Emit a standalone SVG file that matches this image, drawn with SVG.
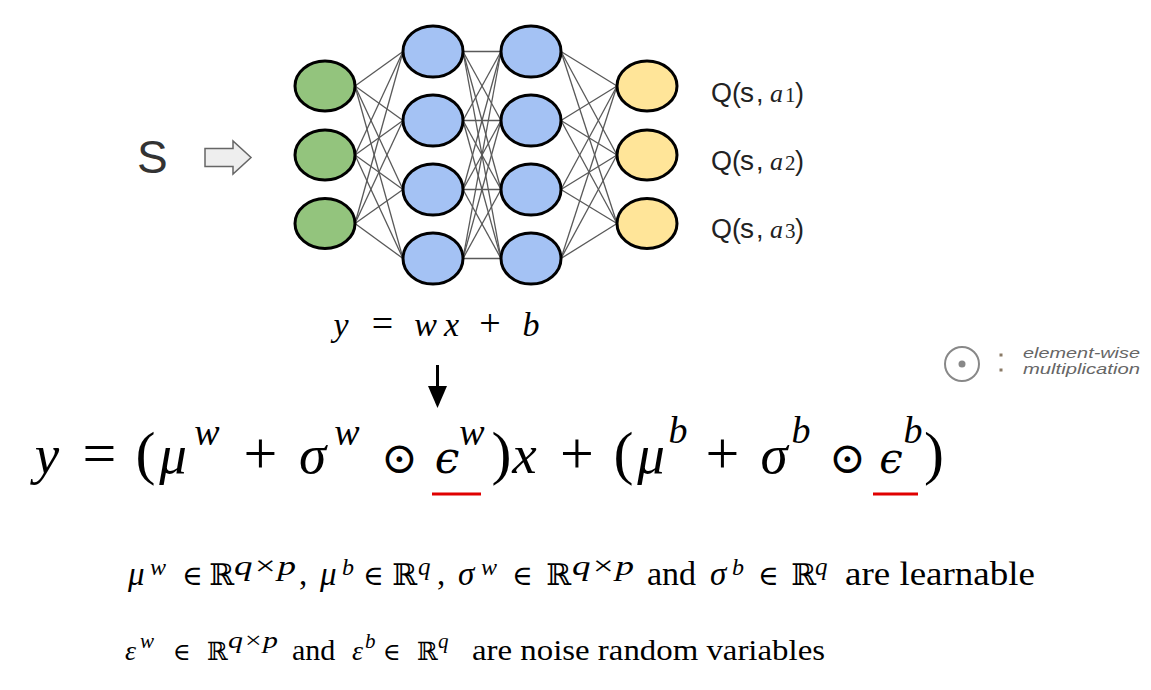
<svg xmlns="http://www.w3.org/2000/svg" width="1151" height="690" viewBox="0 0 1151 690">
<style>
.node{stroke:#000;stroke-width:3}
.in{fill:#93c47d}.hid{fill:#a4c2f4}.out{fill:#ffe599}
.conn line{stroke:#595959;stroke-width:1.3}
.mi{font-family:"Liberation Serif","DejaVu Serif",serif;font-style:italic;fill:#000}
.mr{font-family:"Liberation Serif","DejaVu Serif",serif;fill:#000}
.sym{font-family:"DejaVu Serif","DejaVu Sans",serif;fill:#000}
.qs{font-family:"Liberation Sans",Arial,sans-serif;fill:#222}
.qa{font-family:"Liberation Serif",serif;font-style:italic;fill:#222}
.qd{font-family:"Liberation Serif",serif;fill:#222}
.leg{font-family:"Liberation Sans",Arial,sans-serif;font-style:italic;fill:#666;font-size:14px}
</style>

<g class="conn" id="connectors">
<line x1="355" y1="86" x2="403" y2="51.5"/><line x1="355" y1="86" x2="403" y2="120.5"/><line x1="355" y1="86" x2="403" y2="189.5"/><line x1="355" y1="86" x2="403" y2="258.5"/>
<line x1="355" y1="155" x2="403" y2="51.5"/><line x1="355" y1="155" x2="403" y2="120.5"/><line x1="355" y1="155" x2="403" y2="189.5"/><line x1="355" y1="155" x2="403" y2="258.5"/>
<line x1="355" y1="223.5" x2="403" y2="51.5"/><line x1="355" y1="223.5" x2="403" y2="120.5"/><line x1="355" y1="223.5" x2="403" y2="189.5"/><line x1="355" y1="223.5" x2="403" y2="258.5"/>
<line x1="463" y1="51.5" x2="501" y2="51.5"/><line x1="463" y1="51.5" x2="501" y2="120.5"/><line x1="463" y1="51.5" x2="501" y2="189.5"/><line x1="463" y1="51.5" x2="501" y2="258.5"/>
<line x1="463" y1="120.5" x2="501" y2="51.5"/><line x1="463" y1="120.5" x2="501" y2="120.5"/><line x1="463" y1="120.5" x2="501" y2="189.5"/><line x1="463" y1="120.5" x2="501" y2="258.5"/>
<line x1="463" y1="189.5" x2="501" y2="51.5"/><line x1="463" y1="189.5" x2="501" y2="120.5"/><line x1="463" y1="189.5" x2="501" y2="189.5"/><line x1="463" y1="189.5" x2="501" y2="258.5"/>
<line x1="463" y1="258.5" x2="501" y2="51.5"/><line x1="463" y1="258.5" x2="501" y2="120.5"/><line x1="463" y1="258.5" x2="501" y2="189.5"/><line x1="463" y1="258.5" x2="501" y2="258.5"/>
<line x1="561" y1="51.5" x2="617" y2="86"/><line x1="561" y1="51.5" x2="617" y2="155"/><line x1="561" y1="51.5" x2="617" y2="223.5"/>
<line x1="561" y1="120.5" x2="617" y2="86"/><line x1="561" y1="120.5" x2="617" y2="155"/><line x1="561" y1="120.5" x2="617" y2="223.5"/>
<line x1="561" y1="189.5" x2="617" y2="86"/><line x1="561" y1="189.5" x2="617" y2="155"/><line x1="561" y1="189.5" x2="617" y2="223.5"/>
<line x1="561" y1="258.5" x2="617" y2="86"/><line x1="561" y1="258.5" x2="617" y2="155"/><line x1="561" y1="258.5" x2="617" y2="223.5"/>
</g>

<g id="input1"><ellipse class="node in" cx="325" cy="86" rx="30" ry="25"/></g>
<g id="input2"><ellipse class="node in" cx="325" cy="155" rx="30" ry="25"/></g>
<g id="input3"><ellipse class="node in" cx="325" cy="223.5" rx="30" ry="25"/></g>
<g id="h1a"><ellipse class="node hid" cx="433" cy="51.5" rx="30" ry="25.5"/></g>
<g id="h1b"><ellipse class="node hid" cx="433" cy="120.5" rx="30" ry="25.5"/></g>
<g id="h1c"><ellipse class="node hid" cx="433" cy="189.5" rx="30" ry="25.5"/></g>
<g id="h1d"><ellipse class="node hid" cx="433" cy="258.5" rx="30" ry="25.5"/></g>
<g id="h2a"><ellipse class="node hid" cx="531" cy="51.5" rx="30" ry="25.5"/></g>
<g id="h2b"><ellipse class="node hid" cx="531" cy="120.5" rx="30" ry="25.5"/></g>
<g id="h2c"><ellipse class="node hid" cx="531" cy="189.5" rx="30" ry="25.5"/></g>
<g id="h2d"><ellipse class="node hid" cx="531" cy="258.5" rx="30" ry="25.5"/></g>
<g id="out1"><ellipse class="node out" cx="647" cy="86" rx="30" ry="25"/></g>
<g id="out2"><ellipse class="node out" cx="647" cy="155" rx="30" ry="25"/></g>
<g id="out3"><ellipse class="node out" cx="647" cy="223.5" rx="30" ry="25"/></g>

<g id="state">
<text x="137" y="173" font-family="Liberation Sans, Arial, sans-serif" font-size="46" fill="#333">S</text>
<polygon points="205,148.5 233,148.5 233,141 251,157.5 233,174 233,166.5 205,166.5" fill="#eeeeee" stroke="#666" stroke-width="1.5"/>
</g>

<g id="qlabels">
<text y="102"><tspan class="qs" x="711" font-size="27">Q(</tspan><tspan class="qs" x="740" font-size="28">s</tspan><tspan class="qs" x="756" font-size="27">,</tspan><tspan class="qa" x="770" font-size="26">a</tspan><tspan class="qd" x="785" font-size="21">1</tspan><tspan class="qs" x="795" font-size="27">)</tspan></text>
<text y="170"><tspan class="qs" x="711" font-size="27">Q(</tspan><tspan class="qs" x="740" font-size="28">s</tspan><tspan class="qs" x="756" font-size="27">,</tspan><tspan class="qa" x="770" font-size="26">a</tspan><tspan class="qd" x="785" font-size="21">2</tspan><tspan class="qs" x="795" font-size="27">)</tspan></text>
<text y="238"><tspan class="qs" x="711" font-size="27">Q(</tspan><tspan class="qs" x="740" font-size="28">s</tspan><tspan class="qs" x="756" font-size="27">,</tspan><tspan class="qa" x="770" font-size="26">a</tspan><tspan class="qd" x="785" font-size="21">3</tspan><tspan class="qs" x="795" font-size="27">)</tspan></text>
</g>

<g id="linear" text-anchor="middle">
<text y="336"><tspan class="mi" x="341" font-size="34">y</tspan><tspan class="mr" x="382.5" font-size="38">=</tspan><tspan class="mi" x="425.5" font-size="34">w</tspan><tspan class="mi" x="451.5" font-size="34">x</tspan><tspan class="mr" x="490" font-size="38">+</tspan><tspan class="mi" x="531" font-size="34">b</tspan></text>
</g>

<g id="down-arrow">
<line x1="437.5" y1="365" x2="437.5" y2="392" stroke="#000" stroke-width="3"/>
<polygon points="428,386 447,386 437.5,408" fill="#000"/>
</g>

<g id="noisy-formula" text-anchor="middle">
<text y="473"><tspan class="mi" x="47" font-size="55">y</tspan><tspan class="mr" x="99.5" font-size="60">=</tspan><tspan class="mr" x="145.5" font-size="60">(</tspan><tspan class="mi" x="173" font-size="55">μ</tspan><tspan class="mi" x="207" y="445" font-size="38">w</tspan><tspan class="mr" x="260.5" y="473" font-size="60">+</tspan><tspan class="mi" x="312.5" font-size="55">σ</tspan><tspan class="mi" x="347" y="445" font-size="38">w</tspan><tspan class="sym" x="399.5" y="473" font-size="44">⊙</tspan><tspan class="sym" x="447" font-size="44" font-style="italic">ϵ</tspan><tspan class="mi" x="472" y="445" font-size="38">w</tspan><tspan class="mr" x="501.5" y="473" font-size="60">)</tspan><tspan class="mi" x="524.5" font-size="55">x</tspan><tspan class="mr" x="577" font-size="60">+</tspan><tspan class="mr" x="623.5" font-size="60">(</tspan><tspan class="mi" x="651" font-size="55">μ</tspan><tspan class="mi" x="678" y="443" font-size="38">b</tspan><tspan class="mr" x="722.5" y="473" font-size="60">+</tspan><tspan class="mi" x="774" font-size="55">σ</tspan><tspan class="mi" x="801" y="443" font-size="38">b</tspan><tspan class="sym" x="847.5" y="473" font-size="44">⊙</tspan><tspan class="sym" x="891" font-size="42" font-style="italic">ϵ</tspan><tspan class="mi" x="913" y="443" font-size="38">b</tspan><tspan class="mr" x="934" y="473" font-size="60">)</tspan></text>
<rect x="432" y="492.5" width="49" height="3" fill="#e00000"/>
<rect x="873" y="492.5" width="45" height="3" fill="#e00000"/>
</g>

<g id="legend">
<circle cx="962" cy="364" r="17" fill="none" stroke="#888" stroke-width="2"/>
<circle cx="962" cy="364" r="3.5" fill="#888"/>
<rect x="999.5" y="353.5" width="3" height="3" fill="#8a7a66"/>
<rect x="999.5" y="368.5" width="3" height="3" fill="#8a7a66"/>
<text class="leg" x="1023" y="358" textLength="117" lengthAdjust="spacingAndGlyphs">element-wise</text>
<text class="leg" x="1023" y="374" textLength="117" lengthAdjust="spacingAndGlyphs">multiplication</text>
</g>

<g id="learnable">
<text y="585"><tspan class="mi" x="128" font-size="33">μ</tspan><tspan class="mi" x="150" y="575" font-size="24">w</tspan><tspan class="sym" x="182" y="585" font-size="28">∈</tspan><tspan class="sym" x="209" font-size="30">ℝ</tspan><tspan class="mi" x="234" y="575" font-size="27" textLength="62" lengthAdjust="spacingAndGlyphs">q×p</tspan><tspan class="mr" x="299" y="585" font-size="33">,</tspan><tspan class="mi" x="320" font-size="33">μ</tspan><tspan class="mi" x="342" y="575" font-size="24">b</tspan><tspan class="sym" x="363" y="585" font-size="28">∈</tspan><tspan class="sym" x="392" font-size="30">ℝ</tspan><tspan class="mi" x="418" y="575" font-size="25">q</tspan><tspan class="mr" x="437" y="585" font-size="33">,</tspan><tspan class="mi" x="458" font-size="33">σ</tspan><tspan class="mi" x="481" y="575" font-size="24">w</tspan><tspan class="sym" x="512" y="585" font-size="28">∈</tspan><tspan class="sym" x="546" font-size="30">ℝ</tspan><tspan class="mi" x="572" y="575" font-size="27" textLength="62" lengthAdjust="spacingAndGlyphs">q×p</tspan><tspan class="mr" x="647" y="585" font-size="34">and</tspan><tspan class="mi" x="710" font-size="33">σ</tspan><tspan class="mi" x="732" y="575" font-size="24">b</tspan><tspan class="sym" x="758" y="585" font-size="28">∈</tspan><tspan class="sym" x="791" font-size="30">ℝ</tspan><tspan class="mi" x="815" y="575" font-size="25">q</tspan></text>
<text class="mr" x="845" y="585" font-size="34" textLength="190" lengthAdjust="spacingAndGlyphs">are learnable</text>
</g>

<g id="noise">
<text y="660"><tspan class="mi" x="125" font-size="28">ε</tspan><tspan class="mi" x="140" y="648" font-size="21">w</tspan><tspan class="sym" x="173" y="660" font-size="24">∈</tspan><tspan class="sym" x="207" font-size="25">ℝ</tspan><tspan class="mi" x="228" y="648" font-size="23" textLength="50" lengthAdjust="spacingAndGlyphs">q×p</tspan><tspan class="mr" x="292" y="660" font-size="30">and</tspan><tspan class="mi" x="352" font-size="28">ε</tspan><tspan class="mi" x="365" y="648" font-size="21">b</tspan><tspan class="sym" x="383" y="660" font-size="24">∈</tspan><tspan class="sym" x="417" font-size="25">ℝ</tspan><tspan class="mi" x="438" y="648" font-size="21">q</tspan></text>
<text class="mr" x="472" y="660" font-size="30" textLength="353" lengthAdjust="spacingAndGlyphs">are noise random variables</text>
</g>
</svg>
